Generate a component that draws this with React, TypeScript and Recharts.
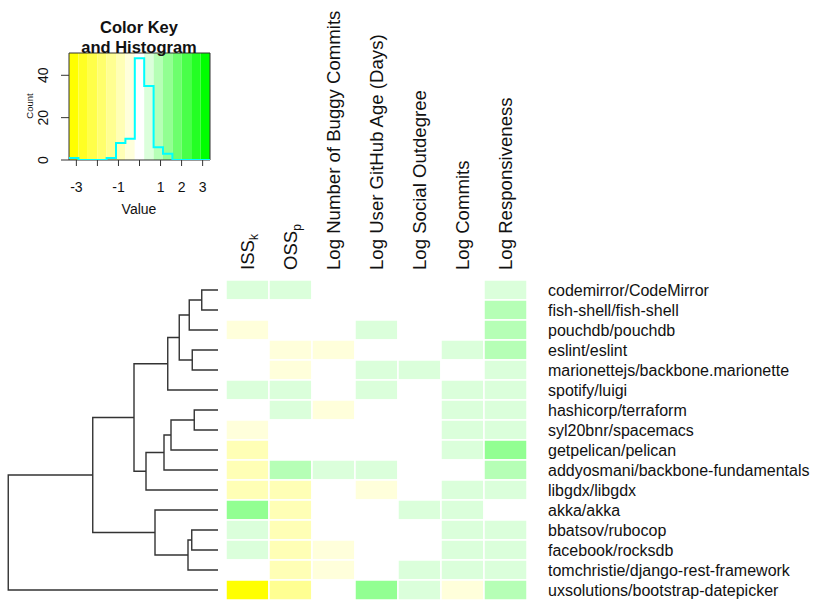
import React from 'react';
import {
  BarChart, Bar, Cell, XAxis, YAxis, ComposedChart, Line, ReferenceArea,
  ScatterChart, Scatter,
} from 'recharts';

// rows in dendrogram order (top to bottom)
const repos = [
  'codemirror/CodeMirror', 'fish-shell/fish-shell', 'pouchdb/pouchdb', 'eslint/eslint',
  'marionettejs/backbone.marionette', 'spotify/luigi', 'hashicorp/terraform', 'syl20bnr/spacemacs',
  'getpelican/pelican', 'addyosmani/backbone-fundamentals', 'libgdx/libgdx', 'akka/akka',
  'bbatsov/rubocop', 'facebook/rocksdb', 'tomchristie/django-rest-framework', 'uxsolutions/bootstrap-datepicker',
];

const columns = [
  'ISS_k', 'OSS_p', 'Log Number of Buggy Commits', 'Log User GitHub Age (Days)',
  'Log Social Outdegree', 'Log Commits', 'Log Responsiveness',
];

// scaled values, one entry per repo
const issK = [0.41, 0.15, -0.44, 0.12, 0.08, 0.47, -0.04, -0.33, -0.7, -0.86, -0.84, 1.3, 0.38, 0.44, 0.13, -3.15];
const ossP = [0.38, 0.02, 0.1, -0.36, -0.52, 0.4, 0.41, 0.1, 0.07, 0.92, -0.8, -0.92, -0.89, -0.95, -0.78, -1.4];
const buggyCommits = [0.05, -0.1, 0.0, -0.31, 0.17, 0.11, -0.38, 0.06, 0.15, 0.34, -0.03, 0.14, 0.02, -0.47, -0.35, 0.2];
const githubAge = [-0.08, 0.08, 0.36, -0.02, 0.33, 0.35, 0.14, 0.0, 0.19, 0.31, -0.41, 0.05, -0.12, -0.04, 0.09, 1.38];
const socialOutdegree = [0.1, -0.05, 0.06, 0.15, 0.42, 0.13, -0.06, 0.12, 0.03, -0.1, 0.09, 0.39, 0.18, 0.12, 0.36, 0.52];
const commits = [0.12, 0.18, 0.14, 0.44, 0.16, 0.44, 0.42, 0.37, 0.29, 0.12, 0.41, 0.45, 0.5, 0.43, 0.48, -0.29];
const responsiveness = [0.47, 0.95, 0.98, 1.05, 0.39, 0.5, 0.46, 0.43, 1.42, 0.88, 0.36, 0.11, 0.33, 0.4, 0.31, 0.97];

const matrix = [issK, ossP, buggyCommits, githubAge, socialOutdegree, commits, responsiveness];

// yellow -> white -> green, 15 colours
const palette = [
  '#FFFF00', '#FFFF24', '#FFFF49', '#FFFF6D', '#FFFF92', '#FFFFB6', '#FFFFDB', '#FFFFFF',
  '#DBFFDB', '#B6FFB6', '#92FF92', '#6DFF6D', '#49FF49', '#24FF24', '#00FF00',
];
const keyRange = [-3.35, 3.35];
const keyTicks = [-3, -2, -1, 0, 1, 2, 3];
const keyHiddenLabels = [-2, 0];

// hclust-style merges (negative = leaf row, positive = earlier merge)
const merges = [
  [-1, -2], [-4, -5], [-7, -8], [-13, -14], [1, -3], [4, -15], [5, 2], [3, -9],
  [7, -6], [8, -10], [-12, 6], [10, -11], [9, 12], [13, 11], [14, -16],
];
const mergeHeights = [0.65, 1.03, 0.95, 1.05, 1.15, 1.2, 1.55, 1.88, 2.01, 2.16, 2.52, 2.88, 3.36, 5.01, 8.39];

const font = '"Liberation Sans", Arial, Helvetica, sans-serif';
const ink = '#111';

const binWidth = (keyRange[1] - keyRange[0]) / palette.length;
const breaks = palette.map((_, i) => keyRange[0] + i * binWidth).concat(keyRange[1]);
const binOf = (v: number) =>
  Math.min(palette.length - 1, Math.max(0, Math.floor((v - keyRange[0]) / binWidth)));

const rows = repos.map((repo) => {
  const row: any = { repo };
  columns.forEach((_, c) => { row[`c${c}`] = 1; });
  return row;
});

const counts = palette.map(() => 0);
matrix.forEach((col) => col.forEach((v) => { counts[binOf(v)] += 1; }));
const histData = breaks.map((b, i) => ({ x: b, count: counts[Math.min(i, counts.length - 1)] }));
const countMax = Math.max(...counts) / 0.95;

// dendrogram segments
const nodeY: number[] = [];
const childPos = (ref: number) =>
  ref < 0 ? { h: 0, y: -ref - 1 } : { h: mergeHeights[ref - 1], y: nodeY[ref - 1] };
const segments = merges.map(([a, b], i) => {
  const pa = childPos(a);
  const pb = childPos(b);
  const h = mergeHeights[i];
  nodeY[i] = (pa.y + pb.y) / 2;
  return [
    { h: pa.h, y: pa.y }, { h, y: pa.y }, { h, y: pb.y }, { h: pb.h, y: pb.y },
  ];
});

const ColumnTick = (props: any) => {
  const { x, y, payload } = props;
  const [main, sub] = columns[Math.round(payload.value - 0.5)].split('_');
  return (
    <text x={x} y={y} dy="0.35em" transform={`rotate(-90, ${x}, ${y})`} textAnchor="start"
      fontSize={18.6} fill={ink} fontFamily={font}>
      {main}
      {sub && <tspan dy="0.3em" fontSize={12}>{sub}</tspan>}
    </text>
  );
};

const RowTick = (props: any) => {
  const { x, y, payload } = props;
  return (
    <text x={x} y={y} dy="0.36em" textAnchor="start" fontSize={16} fill={ink} fontFamily={font}>
      {payload.value}
    </text>
  );
};

const KeyXTick = (props: any) => {
  const { x, y, payload } = props;
  if (keyHiddenLabels.includes(payload.value)) return <g />;
  return (
    <text x={x} y={y} dy="0.71em" textAnchor="middle" fontSize={14} fill={ink} fontFamily={font}>
      {payload.value}
    </text>
  );
};

const KeyYTick = (props: any) => {
  const { x, y, payload } = props;
  return (
    <text x={x} y={y} transform={`rotate(-90, ${x}, ${y})`} textAnchor="middle" fontSize={14}
      fill={ink} fontFamily={font}>
      {payload.value}
    </text>
  );
};

const ColorKey = () => (
  <ComposedChart width={230} height={220} data={histData}
    margin={{ top: 53, right: 20, bottom: 20, left: 29 }}>
    <XAxis dataKey="x" type="number" domain={keyRange} allowDataOverflow ticks={keyTicks}
      tick={<KeyXTick />} tickSize={6} tickMargin={16} tickLine={{ stroke: '#333' }}
      axisLine={false} height={40} interval={0} />
    <YAxis type="number" domain={[0, countMax]} allowDataOverflow ticks={[0, 20, 40]}
      tick={<KeyYTick />} tickSize={8} tickMargin={13} tickLine={{ stroke: '#333' }}
      axisLine={false} width={40} interval={0} />
    {palette.map((color, i) => (
      <ReferenceArea key={color} x1={breaks[i]} x2={breaks[i + 1]} fill={color} fillOpacity={1}
        stroke="none" ifOverflow="visible" />
    ))}
    <ReferenceArea x1={keyRange[0]} x2={keyRange[1]} y1={0} y2={countMax} fill="none"
      stroke="#333" strokeWidth={1} ifOverflow="visible" />
    <Line dataKey="count" type="stepAfter" stroke="#00FFFF" strokeWidth={2} dot={false}
      isAnimationActive={false} />
  </ComposedChart>
);

const Heatmap = () => (
  <BarChart width={830} height={606} data={rows} layout="vertical" barCategoryGap={0}
    margin={{ top: 10, right: 13, bottom: 6, left: 226 }}>
    <XAxis type="number" orientation="top" domain={[0, columns.length]}
      ticks={columns.map((_, i) => i + 0.5)} tick={<ColumnTick />} tickSize={0} tickMargin={10}
      tickLine={false} axisLine={false} height={270} interval={0} />
    <YAxis type="category" dataKey="repo" orientation="right" tick={<RowTick />} tickSize={0}
      tickMargin={21} tickLine={false} axisLine={false} width={290} interval={0} />
    {columns.map((_, c) => (
      <Bar key={c} dataKey={`c${c}`} stackId="row" stroke="#fff" strokeWidth={1.5}
        isAnimationActive={false}>
        {matrix[c].map((v, r) => <Cell key={r} fill={palette[binOf(v)]} />)}
      </Bar>
    ))}
  </BarChart>
);

const Dendrogram = () => (
  <ScatterChart width={230} height={606} margin={{ top: 280, right: 12, bottom: 6, left: 8 }}>
    <XAxis type="number" dataKey="h" domain={[0, 8.4]} reversed hide />
    <YAxis type="number" dataKey="y" domain={[-0.5, repos.length - 0.5]} reversed hide />
    {segments.map((pts, i) => (
      <Scatter key={i} data={pts} line={{ stroke: '#333', strokeWidth: 1.4 }}
        shape={() => <g />} isAnimationActive={false} />
    ))}
  </ScatterChart>
);

const layer: React.CSSProperties = { position: 'absolute', left: 0, top: 0 };

export default function App() {
  return (
    <div style={{ position: 'absolute', left: 0, top: 0, width: 830, height: 606, background: '#fff', fontFamily: font }}>
      <div style={layer}><Heatmap /></div>
      <div style={layer}><Dendrogram /></div>
      <div style={layer}><ColorKey /></div>
      <svg style={layer} width={230} height={220}>
        <text x={139} y={33} textAnchor="middle" fontWeight="bold" fontSize={16.5} fill={ink} fontFamily={font}>Color Key</text>
        <text x={139} y={53} textAnchor="middle" fontWeight="bold" fontSize={16.5} fill={ink} fontFamily={font}>and Histogram</text>
        <text x={33} y={106} transform="rotate(-90, 33, 106)" textAnchor="middle" fontSize={9.5} fill={ink} fontFamily={font}>Count</text>
        <text x={139} y={214} textAnchor="middle" fontSize={14} fill={ink} fontFamily={font}>Value</text>
      </svg>
    </div>
  );
}
